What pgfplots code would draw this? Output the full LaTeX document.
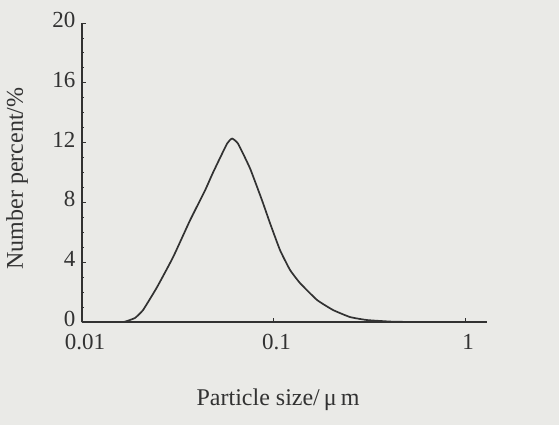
\documentclass[border=0pt]{standalone}
\usepackage{pgfplots}
\pgfplotsset{compat=1.18}
\usepackage{fontspec}
\setmainfont{Liberation Serif}
\definecolor{paper}{RGB}{234,234,231}
\definecolor{ink}{RGB}{50,50,50}

\begin{document}
\begin{tikzpicture}
% scanned page background, fixes the picture size (559 x 425)
\fill[paper] (-82pt,-103pt) rectangle (477pt,322pt);
\begin{axis}[
  scale only axis, width=405pt, height=299pt,
  xmode=log, log basis x=10,
  xmin=0.01, xmax=1.3, ymin=0, ymax=20,
  axis lines=left, axis line style={-, ink, line width=1.7pt},
  xtick={0.01,0.1,1}, xticklabels={0.01,0.1,1},
  ytick={0,4,8,12,16,20},
  minor y tick num=3, minor x tick num=0,
  tick style={ink, line width=0.8pt},
  major tick length=4pt, minor tick length=2pt,
  tick align=inside,
  every tick label/.append style={font=\fontsize{23}{23}\selectfont, text=ink},
  xticklabel style={yshift=-9pt, xshift=3pt},
  yticklabel style={xshift=-3pt, yshift=3pt},
  /pgf/number format/assume math mode=true,
  xlabel={Particle size/\,μ\,m},
  ylabel={Number percent/\%},
  label style={font=\fontsize{24}{26}\selectfont, text=ink},
  xlabel style={at={(axis description cs:0.484,-0.26)}, anchor=center},
  ylabel style={at={(axis description cs:-0.16,0.48)}, anchor=center, rotate=0},
  clip=false,
]
\addplot[ink, line width=1.7pt, smooth, tension=0.25] coordinates {
  (0.01,0) (0.0158,0) (0.01677,0.02) (0.01891,0.27) (0.02083,0.8)
  (0.02464,2.33) (0.02987,4.33) (0.03664,6.8) (0.04387,8.8)
  (0.04832,10.0) (0.05716,11.93) (0.06073,12.27) (0.06525,11.93)
  (0.07540,10.27) (0.08709,8.13) (0.09588,6.6) (0.1081,4.8)
  (0.1220,3.47) (0.1375,2.6) (0.1687,1.47) (0.2045,0.8)
  (0.2508,0.33) (0.3078,0.13) (0.4207,0.02) (0.6,0) (1.3,0)
};
\end{axis}
\end{tikzpicture}
\end{document}
